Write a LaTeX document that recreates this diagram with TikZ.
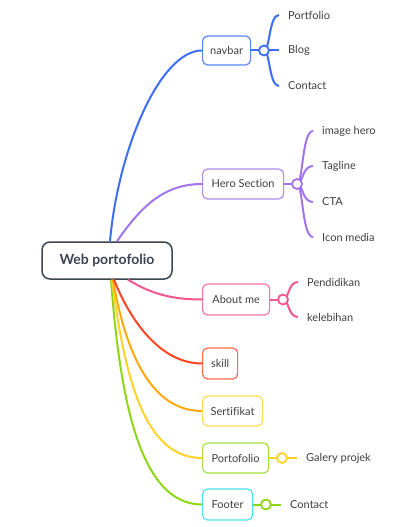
\documentclass[tikz,border=0pt]{standalone}
\usepackage{fontspec}
\setmainfont[Ligatures={NoCommon}]{Lato}
\definecolor{txt}{HTML}{404040}
\definecolor{rootc}{HTML}{3C4452}
\definecolor{cblue}{HTML}{3D6EF5}
\definecolor{bblue}{HTML}{5A86F6}
\definecolor{cpurple}{HTML}{A275EF}
\definecolor{bpurple}{HTML}{AE8CF2}
\definecolor{cpink}{HTML}{F4588A}
\definecolor{bpink}{HTML}{F7769F}
\definecolor{cred}{HTML}{FF4424}
\definecolor{bred}{HTML}{FF6A4D}
\definecolor{corange}{HTML}{FFA90A}
\definecolor{byellow}{HTML}{FFDC55}
\definecolor{cyellow}{HTML}{FFD228}
\definecolor{bgreen}{HTML}{A8E040}
\definecolor{cgreen}{HTML}{8FD616}
\definecolor{bcyan}{HTML}{4CE2EA}
\tikzset{
  box/.style={draw=#1, rounded corners=5pt, line width=1.2pt, fill=white, anchor=west,
    inner sep=0pt, minimum height=30pt, font=\fontsize{11}{13}\selectfont, text=txt},
  conn/.style={draw=#1, line width=2pt},
  hub/.style={circle, draw=#1, fill=white, line width=1.8pt, minimum size=10pt, inner sep=0pt},
  leaf/.style={anchor=west, inner xsep=9pt, inner ysep=0pt, font=\fontsize{11}{13}\selectfont, text=txt},
}
\begin{document}
\begin{tikzpicture}[x=1pt,y=-1pt]
\fill[white] (0,0) rectangle (411,527);
\useasboundingbox (0,0) rectangle (411,527);

% root
\node[draw=rootc, line width=1.5pt, rounded corners=8pt, fill=white, minimum width=130pt,
  minimum height=37pt, inner sep=0pt, font=\bfseries\fontsize{14}{16}\selectfont, text=rootc]
  (root) at (107,260.5) {Web portofolio};

% main topics
\node[box=bblue, minimum width=48pt, minimum height=29pt] (navbar) at (202,50.5) {navbar};
\node[box=bpurple, minimum width=81pt] (hero) at (202,184) {Hero Section};
\node[box=bpink, minimum width=67pt, minimum height=31pt] (about) at (202,299.5) {About me};
\node[box=bred, minimum width=35pt, minimum height=31pt] (skill) at (202,363.5) {skill};
\node[box=byellow, minimum width=60pt] (sert) at (202,411) {Sertifikat};
\node[box=bgreen, minimum width=66pt] (porto) at (202,458) {Portofolio};
\node[box=bcyan, minimum width=50pt, minimum height=31pt] (footer) at (202,504.5) {Footer};

% connector start points on root
\coordinate (r1) at ([xshift=3pt]root.north);
\coordinate (r2) at ([xshift=10pt]root.north);
\coordinate (r3) at ([xshift=21pt]root.south);
\coordinate (r4) at ([xshift=7pt]root.south);
\coordinate (r5) at ([xshift=6pt]root.south);
\coordinate (r6) at ([xshift=5pt]root.south);
\coordinate (r7) at ([xshift=4pt]root.south);

\draw[conn=cblue] (r1) .. controls (118,150) and (160,50.5) .. (navbar.west);
\draw[conn=cpurple] (r2) .. controls (142,205) and (165,184) .. (hero.west);
\draw[conn=cgreen] (r7) .. controls (120,400) and (140,504.5) .. (footer.west);
\draw[conn=cyellow] (r6) .. controls (125,380) and (145,458) .. (porto.west);
\draw[conn=corange] (r5) .. controls (125,350) and (150,411) .. (sert.west);
\draw[conn=cred] (r4) .. controls (130,320) and (160,363.5) .. (skill.west);
\draw[conn=cpink] (r3) .. controls (150,293) and (170,299.5) .. (about.west);

% leaves
\node[leaf] (n1) at (279,15) {Portfolio};
\node[leaf] (n2) at (279,50.5) {Blog};
\node[leaf] (n3) at (279,86) {Contact};
\node[leaf] (h1) at (313,131) {image hero};
\node[leaf] (h2) at (313,166) {Tagline};
\node[leaf] (h3) at (313,202) {CTA};
\node[leaf] (h4) at (313,237) {Icon media};
\node[leaf] (a1) at (298,282) {Pendidikan};
\node[leaf] (a2) at (298,317) {kelebihan};
\node[leaf] (p1) at (297,458) {Galery projek};
\node[leaf] (f1) at (281,504.5) {Contact};

% hubs positions
\coordinate (hn) at (264,50.5);
\coordinate (hh) at (297,184);
\coordinate (ha) at (283,299.5);
\coordinate (hp) at (282,458);
\coordinate (hf) at (266,504.5);

% navbar branches
\draw[conn=cblue] (navbar.east) -- (hn);
\draw[conn=cblue] (hn) .. controls (270,50.5) and (269,15) .. (n1.west);
\draw[conn=cblue] (hn) -- (n2.west);
\draw[conn=cblue] (hn) .. controls (270,50.5) and (269,86) .. (n3.west);
\node[hub=cblue] (hubn) at (hn) {};

% hero branches
\draw[conn=cpurple] (hero.east) -- (hh);
\draw[conn=cpurple] (hh) .. controls (303,184) and (302,131) .. (h1.west);
\draw[conn=cpurple] (hh) .. controls (303,184) and (302,166) .. (h2.west);
\draw[conn=cpurple] (hh) .. controls (303,184) and (302,202) .. (h3.west);
\draw[conn=cpurple] (hh) .. controls (303,184) and (302,237) .. (h4.west);
\node[hub=cpurple] (hubh) at (hh) {};

% about branches
\draw[conn=cpink] (about.east) -- (ha);
\draw[conn=cpink] (ha) .. controls (289,299.5) and (288,282) .. (a1.west);
\draw[conn=cpink] (ha) .. controls (289,299.5) and (288,317) .. (a2.west);
\node[hub=cpink] (huba) at (ha) {};

% portofolio branch
\draw[conn=cyellow] (porto.east) -- (p1.west);
\node[hub=cyellow] (hubp) at (hp) {};

% footer branch
\draw[conn=cgreen] (footer.east) -- (f1.west);
\node[hub=cgreen] (hubf) at (hf) {};
\end{tikzpicture}
\end{document}
